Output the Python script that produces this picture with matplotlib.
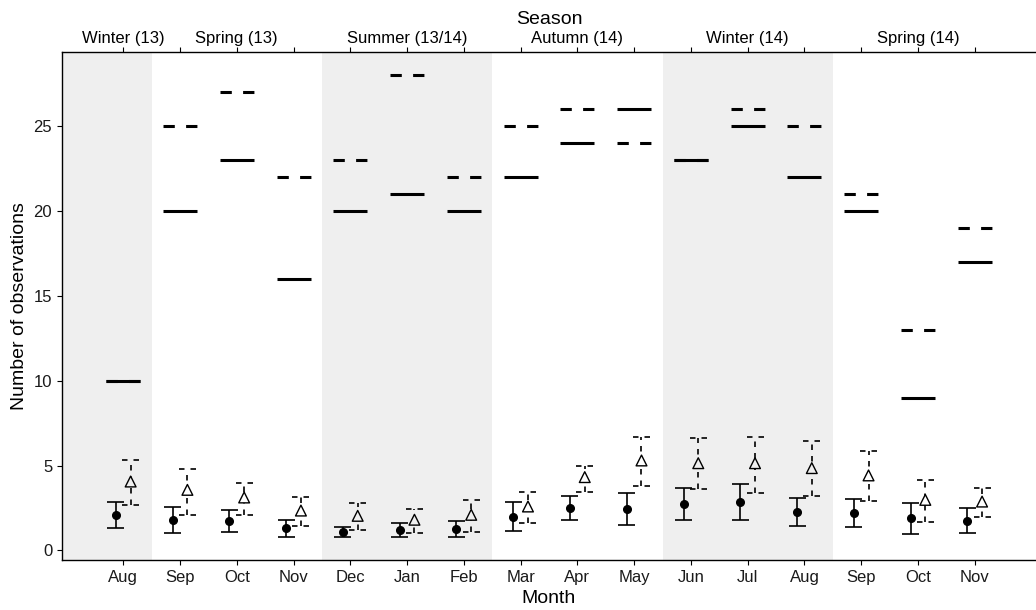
import matplotlib
matplotlib.use('Agg')
from matplotlib import pyplot as plt
import numpy as np

plt.rcParams['font.family'] = ['Liberation Sans', 'DejaVu Sans']

# Months on the x axis (Aug 2013 - Nov 2014)
months = ["Aug", "Sep", "Oct", "Nov", "Dec", "Jan", "Feb", "Mar",
          "Apr", "May", "Jun", "Jul", "Aug", "Sep", "Oct", "Nov"]

# Season labels on the top axis (placed at the middle month of each season)
season_labels = ["Winter (13)", "", "Spring (13)", "", "", "Summer (13/14)", "", "",
                 "Autumn (14)", "", "", "Winter (14)", "", "", "Spring (14)", ""]

# Shaded seasons (first and last month index)
shaded = [(0, 0), (4, 6), (10, 12)]

# Counts (horizontal bars)
count_solid = [10, 20, 23, 16, 20, 21, 20, 22, 24, 26, 23, 25, 22, 20, 9, 17]
count_dashed = [10, 25, 27, 22, 23, 28, 22, 25, 26, 24, 23, 26, 25, 21, 13, 19]

# Mean with lower / upper bounds, series 1 (filled circles, solid bars)
mean_solid = [2.09, 1.81, 1.75, 1.34, 1.06, 1.18, 1.24, 2.00,
              2.51, 2.45, 2.73, 2.87, 2.26, 2.22, 1.91, 1.75]
low_solid = [1.35, 1.02, 1.06, 0.81, 0.79, 0.77, 0.81, 1.12,
             1.77, 1.51, 1.77, 1.79, 1.45, 1.38, 0.96, 1.02]
high_solid = [2.85, 2.55, 2.41, 1.79, 1.38, 1.59, 1.71, 2.85,
              3.22, 3.41, 3.69, 3.94, 3.10, 3.04, 2.81, 2.51]

# Series 2 (open triangles, dashed bars)
mean_dashed = [4.06, 3.57, 3.12, 2.35, 2.04, 1.81, 2.10, 2.59,
               4.32, 5.30, 5.14, 5.14, 4.85, 4.42, 2.98, 2.88]
low_dashed = [2.65, 2.10, 2.10, 1.47, 1.22, 1.04, 1.10, 1.59,
              3.44, 3.81, 3.61, 3.41, 3.18, 2.94, 1.65, 2.00]
high_dashed = [5.34, 4.81, 3.98, 3.14, 2.81, 2.44, 2.98, 3.44,
               4.99, 6.67, 6.63, 6.71, 6.42, 5.83, 4.16, 3.67]

x = np.arange(len(months))
dodge = 0.13
half = 0.3
cap = 0.15
band = '#efefef'

fig = plt.figure(figsize=(10.36, 6.10), dpi=100)
ax = fig.add_axes([0.0598, 0.082, 0.9402, 0.833])

xmin, xmax = -1.08, 16.08
ax.set_xlim(xmin, xmax)
ax.set_ylim(-0.56, 29.36)

# Shaded seasons
in_band = np.zeros(len(months), dtype=bool)
for a, b in shaded:
    lo = xmin if a == 0 else a - 0.5
    ax.axvspan(lo, b + 0.5, color=band, lw=0, zorder=0)
    in_band[a:b + 1] = True

# Counts
ax.hlines(count_solid, x - half, x + half, colors='black', lw=2.2, zorder=3)
ax.hlines(count_dashed, x - half, x + half, colors='black', lw=2.2,
          linestyles=(0, (3.7, 3.7)), zorder=3)

# Error bars, solid series
xs = x - dodge
ax.vlines(xs, low_solid, high_solid, colors='black', lw=1.2, zorder=3)
ax.hlines(low_solid, xs - cap, xs + cap, colors='black', lw=1.2, zorder=3)
ax.hlines(high_solid, xs - cap, xs + cap, colors='black', lw=1.2, zorder=3)
ax.plot(xs, mean_solid, 'o', color='black', ms=5.5, zorder=4)

# Error bars, dashed series
xd = x + dodge
dash = (0, (3.3, 3.6))
ax.vlines(xd, low_dashed, high_dashed, colors='black', lw=1.2,
          linestyles=dash, zorder=3)
ax.hlines(low_dashed, xd - cap, xd + cap, colors='black', lw=1.2,
          linestyles=dash, zorder=3)
ax.hlines(high_dashed, xd - cap, xd + cap, colors='black', lw=1.2,
          linestyles=dash, zorder=3)
face = [band if b else 'white' for b in in_band]
ax.scatter(xd, mean_dashed, marker='^', s=60, c=face, edgecolors='black',
           linewidths=1.0, zorder=4)

# Axes styling
ax.spines['right'].set_visible(False)
ax.spines['top'].set_visible(False)
for s in ['left', 'bottom']:
    ax.spines[s].set_linewidth(1.0)

ax.set_xticks(x)
ax.set_xticklabels(months)
ax.set_yticks(np.arange(0, 26, 5))
ax.tick_params(axis='both', direction='out', length=3.5, width=0.8,
               labelsize=12, labelcolor='#1a1a1a')
ax.set_xlabel("Month", fontsize=14, labelpad=4)
ax.set_ylabel("Number of observations", fontsize=14, labelpad=4)

top = ax.secondary_xaxis('top')
top.set_xticks(x)
top.set_xticklabels(season_labels)
top.spines['top'].set_linewidth(1.0)
top.tick_params(direction='out', length=3.5, width=0.8, labelsize=12,
                labelcolor='black', pad=0.5)
top.set_xlabel("Season", fontsize=14, labelpad=5)

fig.savefig("out.png", dpi=100)
